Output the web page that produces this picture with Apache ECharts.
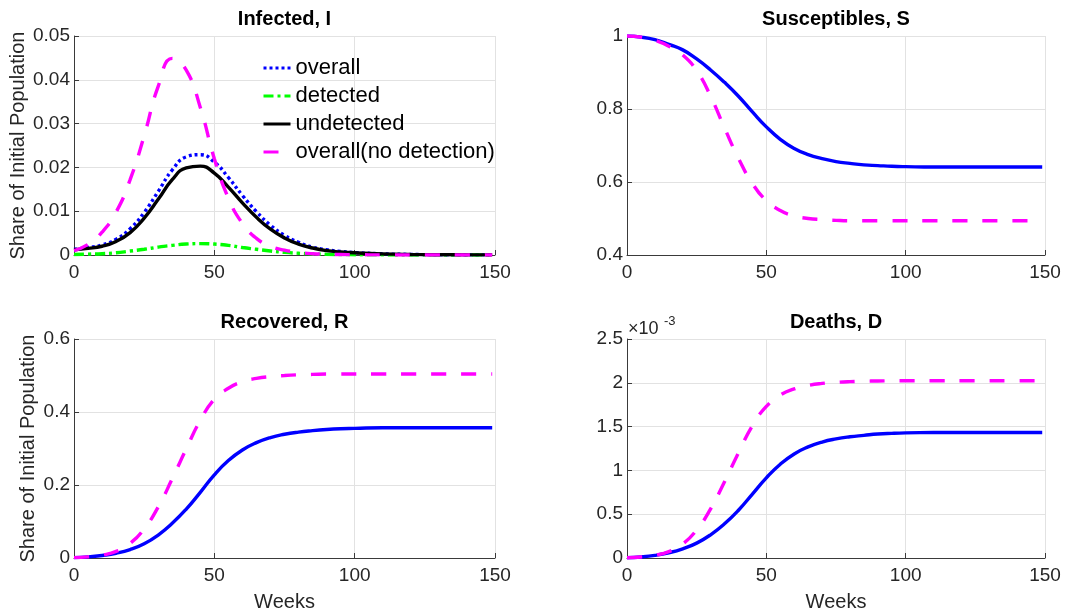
<!DOCTYPE html>
<html>
<head>
<meta charset="utf-8">
<title>Epidemic model: infected, susceptibles, recovered, deaths</title>
<script src="https://cdn.jsdelivr.net/npm/echarts@6/dist/echarts.min.js"></script>
<style>
  html, body { margin: 0; padding: 0; background: #ffffff; }
  #chart { width: 1065px; height: 615px; }
</style>
</head>
<body>
<div id="chart"></div>
<script>
// Simulation horizon (weeks)
const weeks = [0, 5, 10, 15, 20, 25, 30, 35, 40, 45, 50, 55, 60, 65, 70, 75, 80, 85, 90, 95, 100, 110, 120, 130, 140, 149];

// Infected share of initial population
const infOverall    = [0.0013, 0.0017, 0.0023, 0.0036, 0.0060, 0.0097, 0.0145, 0.0194, 0.0224, 0.0229, 0.0212, 0.0177, 0.0136, 0.0099, 0.0068, 0.0045, 0.0029, 0.0018, 0.0012, 0.0008, 0.00056, 0.00027, 0.00013, 0.00006, 0.00003, 0.00002];
const infDetected   = [0.0001, 0.0002, 0.0003, 0.0005, 0.0009, 0.0013, 0.0018, 0.0022, 0.0025, 0.0026, 0.0025, 0.0022, 0.0017, 0.0013, 0.0009, 0.0006, 0.0004, 0.00025, 0.00015, 0.0001, 0.00006, 0.00002, 0.00001, 0, 0, 0];
const infUndetected = [0.0012, 0.0015, 0.0020, 0.0031, 0.0051, 0.0084, 0.0127, 0.0172, 0.0199, 0.0203, 0.0187, 0.0155, 0.0119, 0.0086, 0.0059, 0.0039, 0.0025, 0.0016, 0.0010, 0.0007, 0.0005, 0.00025, 0.00012, 0.00006, 0.00003, 0.00002];
const infNoDetect   = [0.0010, 0.0024, 0.0052, 0.0098, 0.0172, 0.0272, 0.0385, 0.0449, 0.0422, 0.0337, 0.0220, 0.0130, 0.0072, 0.0038, 0.0020, 0.0011, 0.0006, 0.0003, 0.00017, 0.0001, 0.00006, 0.00002, 0.00001, 0, 0, 0];

// Susceptibles
const susBase     = [1.0, 0.997, 0.99, 0.977, 0.962, 0.937, 0.907, 0.873, 0.835, 0.792, 0.751, 0.717, 0.692, 0.675, 0.664, 0.656, 0.651, 0.647, 0.645, 0.643, 0.642, 0.641, 0.641, 0.641, 0.641, 0.641];
const susNoDetect = [1.0, 0.997, 0.988, 0.972, 0.948, 0.905, 0.835, 0.748, 0.665, 0.596, 0.549, 0.522, 0.507, 0.50, 0.497, 0.495, 0.494, 0.494, 0.494, 0.494, 0.494, 0.494, 0.494, 0.494, 0.494, 0.494];

// Recovered
const recBase     = [0.001, 0.003, 0.007, 0.013, 0.023, 0.039, 0.063, 0.095, 0.134, 0.180, 0.228, 0.267, 0.296, 0.316, 0.330, 0.339, 0.345, 0.349, 0.352, 0.354, 0.355, 0.357, 0.357, 0.357, 0.357, 0.357];
const recNoDetect = [0.001, 0.003, 0.008, 0.018, 0.040, 0.080, 0.140, 0.217, 0.299, 0.377, 0.435, 0.465, 0.483, 0.492, 0.497, 0.500, 0.502, 0.503, 0.504, 0.504, 0.504, 0.504, 0.504, 0.504, 0.504, 0.504];

// Deaths, in units of 1e-3
const deathBase     = [0.003, 0.012, 0.030, 0.060, 0.105, 0.170, 0.265, 0.390, 0.545, 0.730, 0.915, 1.071, 1.188, 1.268, 1.324, 1.360, 1.384, 1.400, 1.415, 1.423, 1.428, 1.432, 1.433, 1.433, 1.433, 1.433];
const deathNoDetect = [0.003, 0.012, 0.032, 0.072, 0.160, 0.320, 0.560, 0.870, 1.200, 1.510, 1.730, 1.860, 1.930, 1.970, 1.993, 2.005, 2.013, 2.018, 2.021, 2.023, 2.023, 2.023, 2.023, 2.023, 2.023, 2.023];

const panelTitles = ['Infected, I', 'Susceptibles, S', 'Recovered, R', 'Deaths, D'];
const legendNames = ['overall', 'detected', 'undetected', 'overall(no detection)'];
const yLabel = 'Share of Initial Population';
const xLabel = 'Weeks';

// y ranges per panel: [min, max, interval]
const yRanges = [[0, 0.05, 0.01], [0.4, 1, 0.2], [0, 0.6, 0.2], [0, 2.5, 0.5]];

const FONT = "'Liberation Sans', Arial, Helvetica, sans-serif";
const AXIS_COLOR = '#3a3a3a';
const TEXT_COLOR = '#262626';
const GRID_COLOR = '#e2e2e2';

const grids = [
  { left: 74,  top: 36,  width: 421, height: 219 },
  { left: 627, top: 36,  width: 418, height: 219 },
  { left: 74,  top: 339, width: 421, height: 219 },
  { left: 627, top: 339, width: 418, height: 219 }
];

function pairs(ys) { return weeks.map((w, i) => [w, ys[i]]); }

const xAxes = grids.map((g, i) => ({
  type: 'value', gridIndex: i, min: 0, max: 150, interval: 50,
  axisLine: { show: true, onZero: false, lineStyle: { color: AXIS_COLOR, width: 1 } },
  axisTick: { show: true, inside: true, length: 5, lineStyle: { color: AXIS_COLOR } },
  axisLabel: { margin: 8, fontSize: 19, color: TEXT_COLOR, fontFamily: FONT },
  splitLine: { show: true, lineStyle: { color: GRID_COLOR, width: 1 } },
  name: i >= 2 ? xLabel : '',
  nameLocation: 'middle', nameGap: 34,
  nameTextStyle: { fontSize: 20, color: TEXT_COLOR, fontFamily: FONT }
}));

const yNameGaps = [46, 0, 36, 0];
const yAxes = grids.map((g, i) => ({
  type: 'value', gridIndex: i,
  min: yRanges[i][0], max: yRanges[i][1], interval: yRanges[i][2],
  axisLine: { show: true, onZero: false, lineStyle: { color: AXIS_COLOR, width: 1 } },
  axisTick: { show: true, inside: true, length: 5, lineStyle: { color: AXIS_COLOR } },
  axisLabel: { margin: 4, fontSize: 19, color: TEXT_COLOR, fontFamily: FONT },
  splitLine: { show: true, lineStyle: { color: GRID_COLOR, width: 1 } },
  name: (i === 0 || i === 2) ? yLabel : '',
  nameLocation: 'middle', nameRotate: 90, nameGap: yNameGaps[i],
  nameTextStyle: { fontSize: 20, color: TEXT_COLOR, fontFamily: FONT }
}));

const LINE_W = 3.4;
function line(name, idx, ys, color, type) {
  return {
    name, type: 'line', xAxisIndex: idx, yAxisIndex: idx,
    data: pairs(ys), symbol: 'none', smooth: 0.5,
    lineStyle: { color, width: LINE_W, type, cap: 'butt' },
    itemStyle: { color },
    emphasis: { disabled: true }, silent: true
  };
}

const BLUE = '#0000ff', GREEN = '#00ff00', BLACK = '#000000', MAGENTA = '#ff00ff';
const DOTTED = [3, 3], DASHDOT = [10, 4, 3, 4], DASHED = [15, 15];

const series = [
  line(legendNames[0], 0, infOverall, BLUE, DOTTED),
  line(legendNames[1], 0, infDetected, GREEN, DASHDOT),
  line(legendNames[2], 0, infUndetected, BLACK, 'solid'),
  line(legendNames[3], 0, infNoDetect, MAGENTA, DASHED),
  line('susceptible', 1, susBase, BLUE, 'solid'),
  line('susceptible (no detection)', 1, susNoDetect, MAGENTA, DASHED),
  line('recovered', 2, recBase, BLUE, 'solid'),
  line('recovered (no detection)', 2, recNoDetect, MAGENTA, DASHED),
  line('deaths', 3, deathBase, BLUE, 'solid'),
  line('deaths (no detection)', 3, deathNoDetect, MAGENTA, DASHED)
];

const titleGraphics = grids.map((g, i) => ({
  type: 'text', silent: true,
  x: g.left + g.width / 2, y: g.top - 17,
  style: {
    text: panelTitles[i], fill: '#000', font: 'bold 20px ' + FONT,
    textAlign: 'center', textVerticalAlign: 'middle'
  }
}));

// scale factor note for the deaths panel
const exponentGraphics = [
  { type: 'text', silent: true, x: 628, y: 329,
    style: { text: '\u00d710', fill: TEXT_COLOR, font: '18px ' + FONT, textAlign: 'left', textVerticalAlign: 'middle' } },
  { type: 'text', silent: true, x: 664, y: 321,
    style: { text: '-3', fill: TEXT_COLOR, font: '13px ' + FONT, textAlign: 'left', textVerticalAlign: 'middle' } }
];

const chart = echarts.init(document.getElementById('chart'), null, { renderer: 'canvas' });
chart.setOption({
  animation: false,
  backgroundColor: '#ffffff',
  grid: grids.map(g => Object.assign({ containLabel: false }, g)),
  xAxis: xAxes,
  yAxis: yAxes,
  legend: {
    data: legendNames, orient: 'vertical', left: 262, top: 57, padding: 0,
    itemWidth: 27, itemHeight: 12, itemGap: 6, selectedMode: false,
    lineStyle: { width: 3 },
    itemStyle: { opacity: 0, borderWidth: 0 },
    textStyle: { fontSize: 22, lineHeight: 22, color: '#000', fontFamily: FONT }
  },
  series,
  graphic: titleGraphics.concat(exponentGraphics)
});
</script>
</body>
</html>
